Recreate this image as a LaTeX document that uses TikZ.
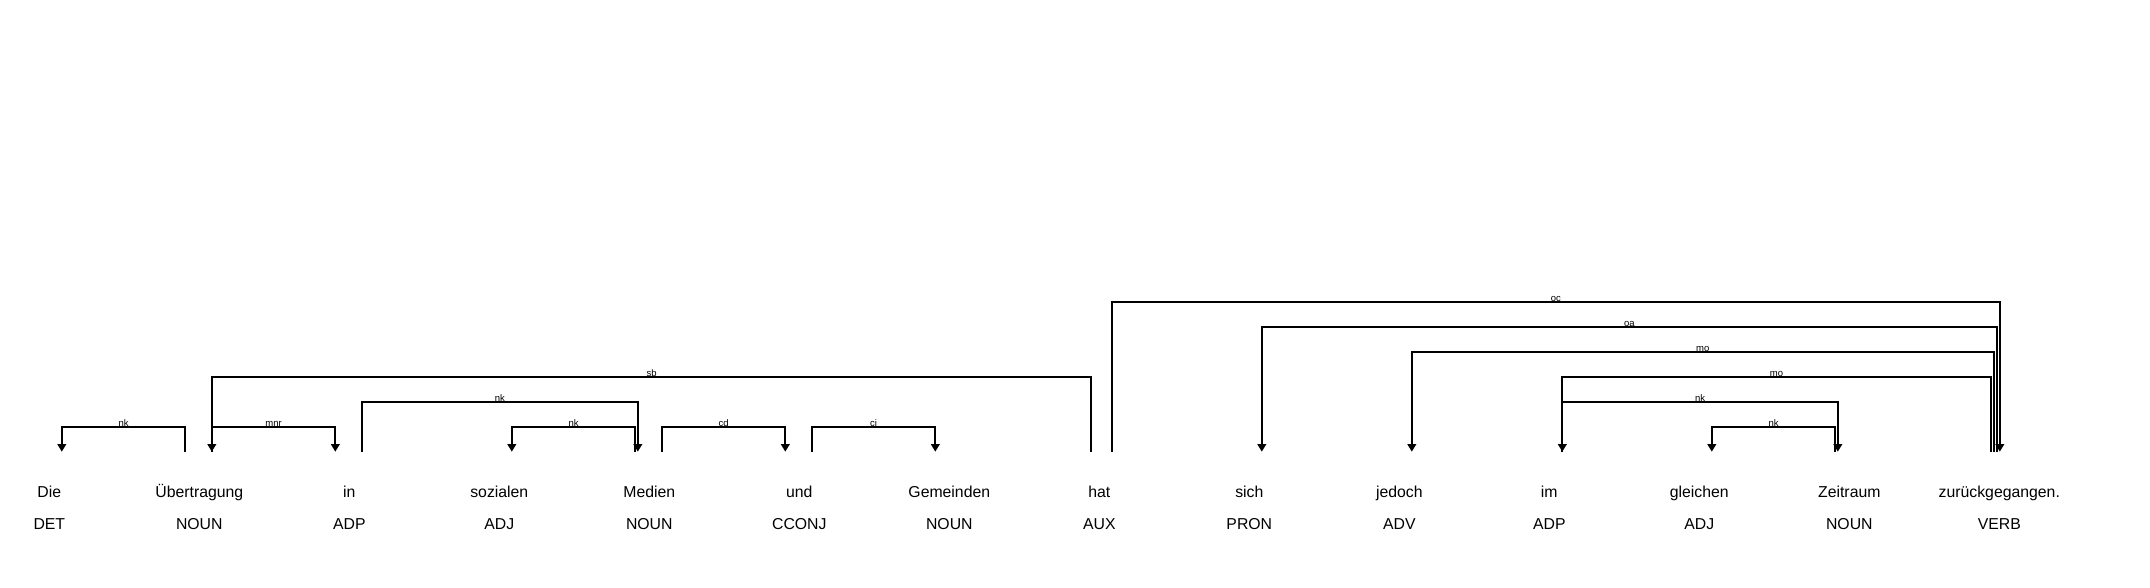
\documentclass[tikz,border=0pt]{standalone}
\usepackage{fontspec}
\setmainfont{Liberation Sans}
\usetikzlibrary{arrows.meta, positioning}
\tikzstyle{word} = [inner sep=0pt, text height=11.5pt, text depth=3.5pt, font=\fontsize{15.8}{18}\selectfont]
\tikzstyle{tag} = [word, node distance=32pt]
\tikzstyle{deparc} = [line width=1.9pt, -{Triangle[length=7.5pt,width=8.5pt]}]
\tikzstyle{deplabel} = [pos=0.25, anchor=base, inner sep=0pt, yshift=0.5pt, font=\fontsize{9.5}{10}\selectfont]

\begin{document}
\begin{tikzpicture}[x=1pt, y=1pt, node distance=150pt]
        \useasboundingbox (0,0) rectangle (2150,587);

        % Woerter
        \node (w0) [word] at (49.3,93.7) {Die};
        \node (w1) [word, right of=w0] {Übertragung};
        \node (w2) [word, right of=w1] {in};
        \node (w3) [word, right of=w2] {sozialen};
        \node (w4) [word, right of=w3] {Medien};
        \node (w5) [word, right of=w4] {und};
        \node (w6) [word, right of=w5] {Gemeinden};
        \node (w7) [word, right of=w6] {hat};
        \node (w8) [word, right of=w7] {sich};
        \node (w9) [word, right of=w8] {jedoch};
        \node (w10) [word, right of=w9] {im};
        \node (w11) [word, right of=w10] {gleichen};
        \node (w12) [word, right of=w11] {Zeitraum};
        \node (w13) [word, right of=w12] {zurückgegangen.};

        % Wortarten
        \node (p0) [tag, below of=w0] {DET};
        \node (p1) [tag, below of=w1] {NOUN};
        \node (p2) [tag, below of=w2] {ADP};
        \node (p3) [tag, below of=w3] {ADJ};
        \node (p4) [tag, below of=w4] {NOUN};
        \node (p5) [tag, below of=w5] {CCONJ};
        \node (p6) [tag, below of=w6] {NOUN};
        \node (p7) [tag, below of=w7] {AUX};
        \node (p8) [tag, below of=w8] {PRON};
        \node (p9) [tag, below of=w9] {ADV};
        \node (p10) [tag, below of=w10] {ADP};
        \node (p11) [tag, below of=w11] {ADJ};
        \node (p12) [tag, below of=w12] {NOUN};
        \node (p13) [tag, below of=w13] {VERB};

        % Fusspunkt der Boegen
        \coordinate (base) at (0,135.3);

        % Abhaengigkeiten
        \draw [deparc] ([xshift=-14pt]w1.north |- base) -- ++(0,25) -| node [deplabel] {nk} ([xshift=12.5pt]w0.north |- base);
        \draw [deparc] ([xshift=12.5pt]w1.north |- base) -- ++(0,25) -| node [deplabel] {mnr} ([xshift=-14pt]w2.north |- base);
        \draw [deparc] ([xshift=-8pt]w7.north |- base) -- ++(0,75) -| node [deplabel] {sb} ([xshift=12.5pt]w1.north |- base);
        \draw [deparc] ([xshift=12.5pt]w2.north |- base) -- ++(0,50) -| node [deplabel] {nk} ([xshift=-11.5pt]w4.north |- base);
        \draw [deparc] ([xshift=-14pt]w4.north |- base) -- ++(0,25) -| node [deplabel] {nk} ([xshift=12.5pt]w3.north |- base);
        \draw [deparc] ([xshift=12.5pt]w4.north |- base) -- ++(0,25) -| node [deplabel] {cd} ([xshift=-14pt]w5.north |- base);
        \draw [deparc] ([xshift=12.5pt]w5.north |- base) -- ++(0,25) -| node [deplabel] {cj} ([xshift=-14pt]w6.north |- base);
        \draw [deparc] ([xshift=12.5pt]w7.north |- base) -- ++(0,150) -| node [deplabel] {oc} ([xshift=0.5pt]w13.north |- base);
        \draw [deparc] ([xshift=-2.5pt]w13.north |- base) -- ++(0,125) -| node [deplabel] {oa} ([xshift=12.5pt]w8.north |- base);
        \draw [deparc] ([xshift=-5.5pt]w13.north |- base) -- ++(0,100) -| node [deplabel] {mo} ([xshift=12.5pt]w9.north |- base);
        \draw [deparc] ([xshift=-8.5pt]w13.north |- base) -- ++(0,75) -| node [deplabel] {mo} ([xshift=13pt]w10.north |- base);
        \draw [deparc] ([xshift=13pt]w10.north |- base) -- ++(0,50) -| node [deplabel] {nk} ([xshift=-11.5pt]w12.north |- base);
        \draw [deparc] ([xshift=-14pt]w12.north |- base) -- ++(0,25) -| node [deplabel] {nk} ([xshift=12.5pt]w11.north |- base);
    \end{tikzpicture}
\end{document}
